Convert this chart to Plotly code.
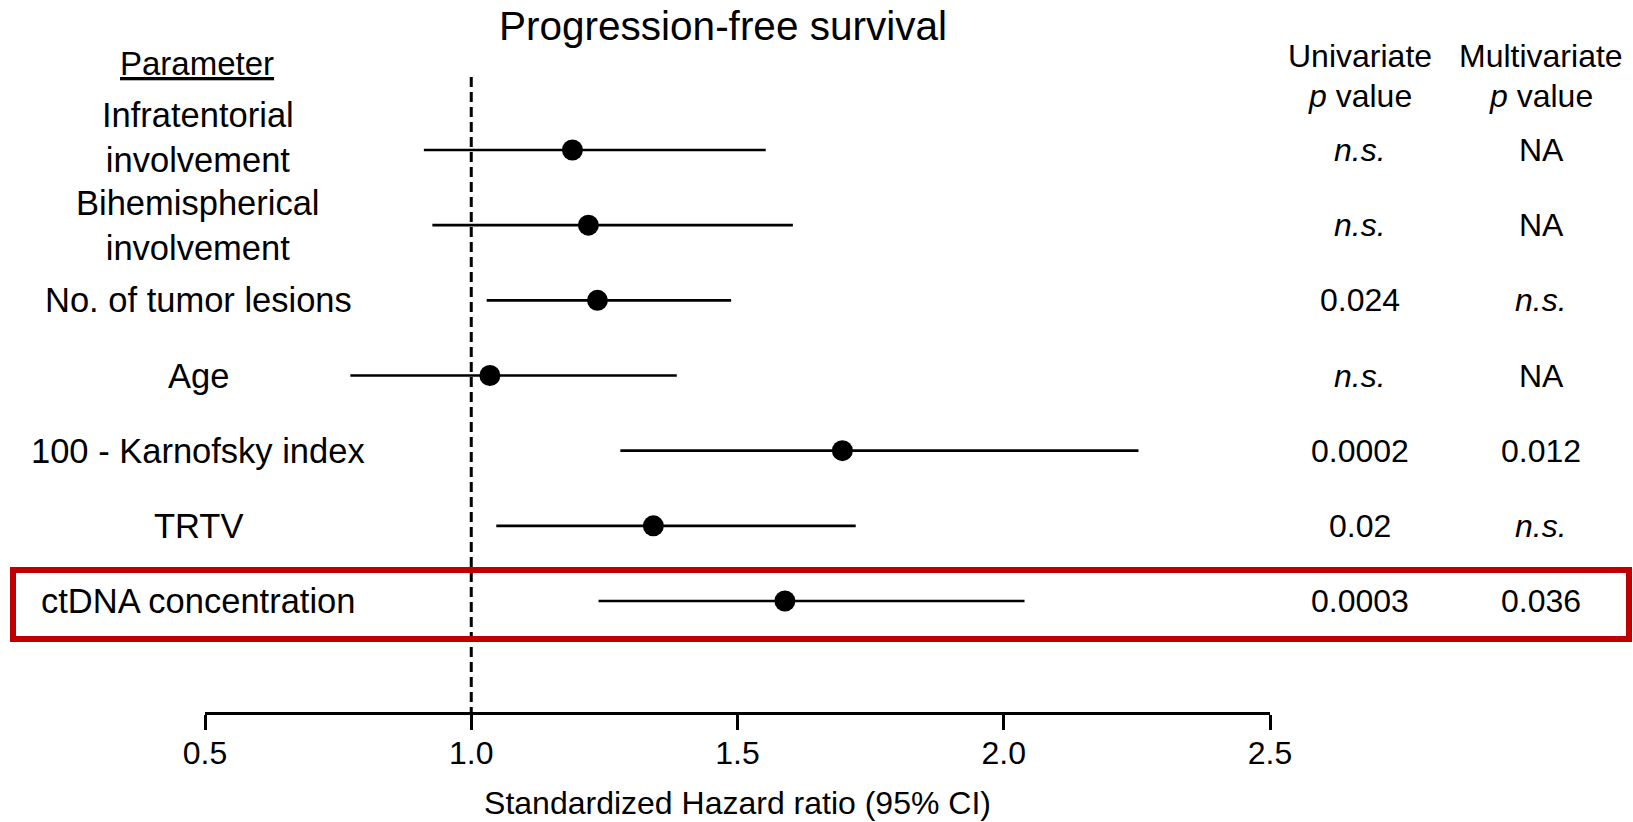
import plotly.graph_objects as go

# ---- data ----
parameters = ["Infratentorial<br>involvement", "Bihemispherical<br>involvement",
              "No. of tumor lesions", "Age", "100 - Karnofsky index", "TRTV",
              "ctDNA concentration"]
hazard_ratio = [1.19, 1.22, 1.237, 1.035, 1.697, 1.342, 1.589]
ci_low = [0.911, 0.927, 1.029, 0.773, 1.280, 1.047, 1.239]
ci_high = [1.553, 1.604, 1.488, 1.386, 2.253, 1.722, 2.039]
p_univariate = ["n.s.", "n.s.", "0.024", "n.s.", "0.0002", "0.02", "0.0003"]
p_multivariate = ["NA", "NA", "n.s.", "NA", "0.012", "n.s.", "0.036"]
x_ticks = [0.5, 1.0, 1.5, 2.0, 2.5]
x_tick_labels = ["0.5", "1.0", "1.5", "2.0", "2.5"]

# ---- layout geometry (pixels) ----
W, H = 1633, 822
AX_Y = 712          # pixel of the x axis line
ROW0 = 150          # pixel of first row
ROW_STEP = 75.17
FONT = "Liberation Sans, Arial, sans-serif"

rows = list(range(len(parameters)))
y_top = -ROW0 / ROW_STEP
y_bot = y_top + AX_Y / ROW_STEP


def px_y(p):
    return (p - ROW0) / ROW_STEP


def fmt(s):
    return "<i>%s</i>" % s if s == "n.s." else s


fig = go.Figure()

fig.add_trace(go.Scatter(
    x=hazard_ratio, y=rows, mode="markers",
    marker=dict(size=21, color="black", symbol="circle"),
    error_x=dict(type="data", symmetric=False,
                 array=[h - m for h, m in zip(ci_high, hazard_ratio)],
                 arrayminus=[m - l for m, l in zip(hazard_ratio, ci_low)],
                 width=0, thickness=2.7, color="black"),
    showlegend=False, hoverinfo="skip",
))

# reference line at HR = 1
fig.add_shape(type="line", xref="x", yref="y", x0=1.0, x1=1.0,
              y0=px_y(77), y1=y_bot,
              line=dict(color="black", width=3, dash="10px,5px"))

# highlight box
fig.add_shape(type="rect", xref="paper", yref="y",
              x0=13 / W, x1=1629 / W, y0=px_y(570), y1=px_y(639),
              line=dict(color="#C00000", width=6), fillcolor="rgba(0,0,0,0)")

ann = []
# column headers
ann.append(dict(text="<u>Parameter</u>", x=197 / W, y=px_y(63), size=33))
ann.append(dict(text="Univariate", x=1360 / W, y=px_y(56)))
ann.append(dict(text="<i>p</i> value", x=1360 / W, y=px_y(96)))
ann.append(dict(text="Multivariate", x=1541 / W, y=px_y(56)))
ann.append(dict(text="<i>p</i> value", x=1541 / W, y=px_y(96)))

for r, name, pu, pm in zip(rows, parameters, p_univariate, p_multivariate):
    shift = 13 if r == 0 else 0   # first wrapped label sits higher
    ann.append(dict(text=name, x=198 / W, y=r, size=34.5, yshift=shift))
    ann.append(dict(text=fmt(pu), x=1360 / W, y=r))
    ann.append(dict(text=fmt(pm), x=1541 / W, y=r))

annotations = []
for a in ann:
    annotations.append(dict(
        text=a["text"], x=a["x"], y=a["y"], xref="paper", yref="y",
        xanchor="center", yanchor="middle", showarrow=False,
        yshift=a.get("yshift", 0),
        font=dict(family=FONT, size=a.get("size", 32), color="black")))

fig.update_layout(
    width=W, height=H, autosize=False,
    margin=dict(l=0, r=0, t=0, b=H - AX_Y, pad=0, autoexpand=False),
    paper_bgcolor="white", plot_bgcolor="white",
    title=dict(text="Progression-free survival", x=723 / W, xanchor="center",
               y=1 - 26 / H, yanchor="middle", yref="container",
               font=dict(family=FONT, size=40.5, color="black")),
    xaxis=dict(domain=[205 / W, 1270 / W], range=[0.5, 2.5],
               automargin=False,
               tickvals=x_ticks, ticktext=x_tick_labels,
               ticks="outside", ticklen=15, tickwidth=3, tickcolor="black",
               ticklabelstandoff=-4,
               showline=True, linewidth=3, linecolor="black",
               showgrid=False, zeroline=False,
               tickfont=dict(family=FONT, size=32, color="black"),
               title=dict(text="Standardized Hazard ratio (95% CI)", standoff=22,
                          font=dict(family=FONT, size=32, color="black"))),
    yaxis=dict(range=[y_bot, y_top], visible=False, showgrid=False,
               zeroline=False, automargin=False),
    annotations=annotations,
)

fig.write_html("out.html", config={"displayModeBar": False},
               post_script="document.body.style.margin='0';")
